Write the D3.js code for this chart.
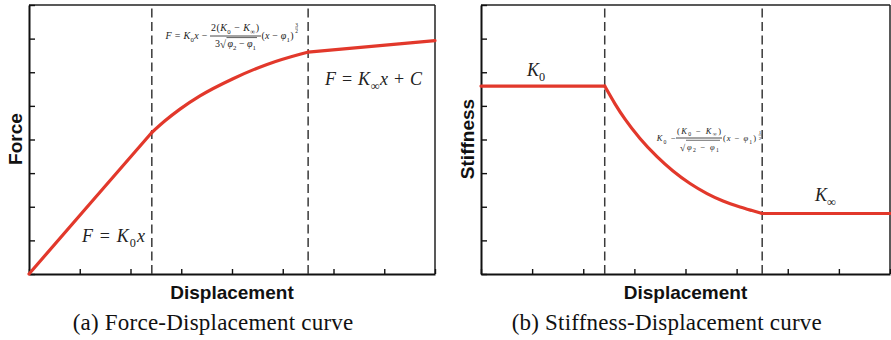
<!DOCTYPE html>
<html><head><meta charset="utf-8">
<script src="https://cdn.jsdelivr.net/npm/d3@7"></script>
<style>body{margin:0;background:#fff} svg{display:block} text{white-space:pre}</style>
</head><body><svg id="c" width="891" height="340"></svg>
<script>
// ---- data (axis units 0..8) ----
const xTickValues = [0, 1, 2, 3, 4, 5, 6, 7, 8];
const yTickValues = [0, 1, 2, 3, 4, 5, 6, 7, 8];
const phi = [2.42, 5.5];
const forceX = [0, 1.2, 2.42, 2.68, 2.975, 3.369, 4.02, 4.69, 5.34, 5.5, 6.75, 8];
const forceY = [0, 2.09, 4.208, 4.556, 4.904, 5.297, 5.808, 6.234, 6.537, 6.60, 6.77, 6.94];
const stiffX = [0, 1.2, 2.42, 2.621, 2.817, 3.11, 3.443, 3.756, 4.088, 4.421, 4.734, 5.066, 5.301, 5.5, 6.75, 8];
const stiffY = [5.59, 5.59, 5.59, 5.062, 4.604, 4.03, 3.489, 3.063, 2.691, 2.392, 2.171, 1.993, 1.886, 1.80, 1.80, 1.80];
const yLabels = ["Force", "Stiffness"];
const xLabel = "Displacement";
const captions = ["(a) Force-Displacement curve", "(b) Stiffness-Displacement curve"];

const SERIF = "'Liberation Serif','Times New Roman',serif";
const SANS = "'Liberation Sans',Arial,sans-serif";
const RED = "#e2382b";
const svg = d3.select("#c");

function rich(g, x, y, size, segs, anchor, len) {
  const t = g.append("text").attr("x", x).attr("y", y).attr("font-size", size)
    .attr("text-anchor", anchor || "start").attr("font-family", SERIF).attr("fill", "#222");
  if (len) t.attr("textLength", len).attr("lengthAdjust", "spacing");
  let shift = 0;
  segs.forEach(s => {
    const sp = t.append("tspan").text(s.t);
    const target = s.sub ? size * 0.3 : s.sup ? -size * 0.4 : 0;
    if (target !== shift) { sp.attr("dy", target - shift); shift = target; }
    if (s.sub || s.sup) sp.attr("font-size", size * 0.68);
    if (s.i) sp.attr("font-style", "italic");
  });
  return t;
}
const I = t => ({t, i: true}), R = t => ({t}), S = t => ({t, sub: true});
function hline(g, x1, x2, y, w) {
  g.append("line").attr("x1", x1).attr("x2", x2).attr("y1", y).attr("y2", y)
    .attr("stroke", "#333").attr("stroke-width", w);
}

function panel(p) {
  const x = d3.scaleLinear().domain([0, 8]).range(p.xr);
  const y = d3.scaleLinear().domain([0, 8]).range([274, 5]);
  const g = svg.append("g");
  g.append("line").attr("x1", x(0)).attr("x2", x(8)).attr("y1", y(8)).attr("y2", y(8))
    .attr("stroke", "#222").attr("stroke-width", 1.3);
  g.append("line").attr("x1", x(8)).attr("x2", x(8)).attr("y1", y(0)).attr("y2", y(8))
    .attr("stroke", "#222").attr("stroke-width", 1.5);
  const ax = g.append("g").attr("transform", `translate(0,${y(0)})`)
    .call(d3.axisBottom(x).tickValues(xTickValues).tickSize(-5).tickSizeOuter(0).tickFormat(""));
  const ay = g.append("g").attr("transform", `translate(${x(0)},0)`)
    .call(d3.axisLeft(y).tickValues(yTickValues).tickSize(-6).tickSizeOuter(0).tickFormat(""));
  [ax, ay].forEach(a => {
    a.select(".domain").attr("stroke", "#111").attr("stroke-width", 2);
    a.selectAll(".tick line").attr("stroke", "#111").attr("stroke-width", 1.4);
  });
  g.selectAll(".dash").data(phi).join("line").attr("class", "dash")
    .attr("x1", d => x(d)).attr("x2", d => x(d)).attr("y1", y(0)).attr("y2", y(8))
    .attr("stroke", "#3a3a3a").attr("stroke-width", 1.5).attr("stroke-dasharray", "9,4.5");
  const pts = p.xs.map((v, i) => [v, p.ys[i]]);
  const segs = [
    [pts.filter(d => d[0] <= phi[0]), d3.curveLinear],
    [pts.filter(d => d[0] >= phi[0] && d[0] <= phi[1]), d3.curveMonotoneX],
    [pts.filter(d => d[0] >= phi[1]), d3.curveLinear]
  ];
  segs.forEach(([data, c]) => {
    g.append("path").datum(data)
      .attr("d", d3.line().x(d => x(d[0])).y(d => y(d[1])).curve(c))
      .attr("fill", "none").attr("stroke", RED).attr("stroke-width", 3.2).attr("stroke-linecap", "round");
  });
  g.append("text").attr("x", (x(0) + x(8)) / 2).attr("y", 299).attr("text-anchor", "middle")
    .attr("font-family", SANS).attr("font-weight", "bold").attr("font-size", 19).attr("fill", "#111")
    .text(xLabel);
  g.append("text").attr("transform", `translate(${p.ylx},139) rotate(-90)`).attr("text-anchor", "middle")
    .attr("font-family", SANS).attr("font-weight", "bold").attr("font-size", 19).attr("fill", "#111")
    .text(p.yl);
  g.append("text").attr("x", p.capx).attr("y", 330)
    .attr("font-family", SERIF).attr("font-size", 23).attr("fill", "#111")
    .attr("textLength", p.capw).attr("lengthAdjust", "spacing").text(p.cap);
  return {g, x, y};
}

const A = panel({xr: [29, 435], xs: forceX, ys: forceY, yl: yLabels[0], ylx: 21.5, cap: captions[0], capx: 72.7, capw: 280.5});
const B = panel({xr: [481, 890], xs: stiffX, ys: stiffY, yl: yLabels[1], ylx: 474, cap: captions[1], capx: 511.7, capw: 310});

// ---- annotations panel (a) ----
rich(A.g, 82, 242, 18, [I("F"), R(" = "), I("K"), S("0"), I("x")], "start", 63);
rich(A.g, 325, 85, 18, [I("F"), R(" = "), I("K"), S("∞"), I("x"), R(" + "), I("C")], "start", 97);
const fa = A.g.append("g");
rich(fa, 165.5, 38.5, 10, [I("F"), R(" = "), I("K"), S("0"), I("x"), R(" −")], "start", 42);
rich(fa, 211, 31, 10, [R("2("), I("K"), S("0"), R(" − "), I("K"), S("∞"), R(")")], "start", 48);
hline(fa, 210, 261, 36, 0.9);
rich(fa, 215, 47, 10, [R("3")]);
rich(fa, 220, 48, 11, [R("√")]);
rich(fa, 227.5, 47, 10, [I("φ"), S("2"), R(" − "), I("φ"), S("1")], "start", 28.5);
hline(fa, 226.5, 257, 37.6, 0.8);
rich(fa, 261.5, 38.5, 10, [R("("), I("x"), R(" − "), I("φ"), S("1"), R(")")], "start", 32);
rich(fa, 296.5, 27, 5.5, [R("3")], "middle");
hline(fa, 295, 298, 28, 0.5);
rich(fa, 296.5, 32.5, 5.5, [R("2")], "middle");

// ---- annotations panel (b) ----
rich(B.g, 527, 76, 18, [I("K"), S("0")]);
rich(B.g, 815, 201, 18, [I("K"), S("∞")]);
const fb = B.g.append("g");
rich(fb, 656.7, 141, 8.5, [I("K"), S("0"), R(" −")], "start", 19);
rich(fb, 677, 133.5, 8.5, [R("("), I("K"), S("0"), R(" − "), I("K"), S("∞"), R(")")], "start", 44);
hline(fb, 676, 722, 138, 0.9);
rich(fb, 680, 150.5, 9.5, [R("√")]);
rich(fb, 687, 149.5, 8.5, [I("φ"), S("2"), R(" − "), I("φ"), S("1")], "start", 32);
hline(fb, 686, 720, 140.3, 0.7);
rich(fb, 723, 141, 8.5, [R("("), I("x"), R(" − "), I("φ"), S("1"), R(")")], "start", 33);
rich(fb, 760, 134, 5, [R("1")], "middle");
hline(fb, 758.5, 761.5, 135, 0.5);
rich(fb, 760, 139.8, 5, [R("2")], "middle");
</script></body></html>
